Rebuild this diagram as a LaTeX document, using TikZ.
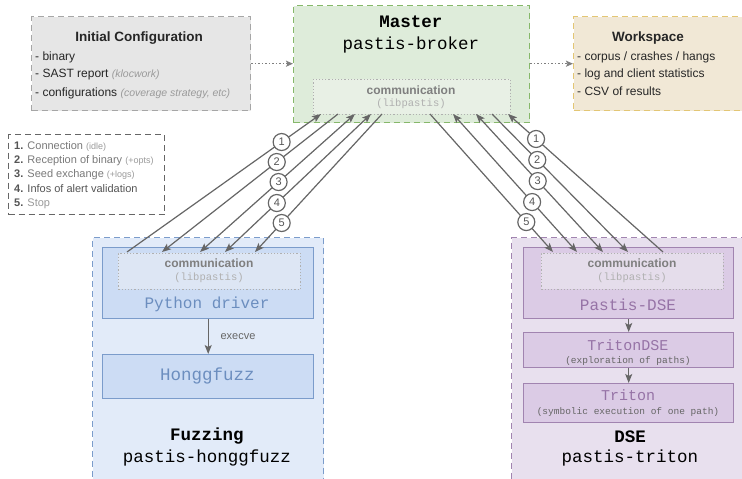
\documentclass[tikz,border=0pt]{standalone}
\usepackage{fontspec}
\setmainfont{Liberation Sans}
\setmonofont{Liberation Mono}
\usetikzlibrary{arrows.meta}
\definecolor{lnk}{HTML}{666666}
\definecolor{txt}{HTML}{262626}
\definecolor{cfgF}{HTML}{E6E6E6}
\definecolor{cfgB}{HTML}{A6A6A6}
\definecolor{mF}{HTML}{DEECDA}
\definecolor{mB}{HTML}{86B86A}
\definecolor{mcF}{HTML}{E8F0E5}
\definecolor{wF}{HTML}{F1E8D6}
\definecolor{wB}{HTML}{E3C674}
\definecolor{fF}{HTML}{E2EBF9}
\definecolor{fIn}{HTML}{CCDCF4}
\definecolor{fcF}{HTML}{DDE6F4}
\definecolor{fB}{HTML}{7B9CCB}
\definecolor{fT}{HTML}{6C8EBF}
\definecolor{dF}{HTML}{E8E0EE}
\definecolor{dIn}{HTML}{DBCBE5}
\definecolor{dcF}{HTML}{E5DDEB}
\definecolor{dB}{HTML}{A184B0}
\definecolor{dT}{HTML}{9673A6}
\definecolor{commGray}{HTML}{7F7F7F}
\definecolor{libGray}{HTML}{B0B0B0}
\definecolor{parGray}{HTML}{9A9A9A}
\definecolor{legNum}{HTML}{555555}
\definecolor{legTxt}{HTML}{7A7A7A}
\begin{document}
\begin{tikzpicture}[x=1pt,y=-1pt,
  box/.style={rectangle, anchor=north west, inner sep=0pt, line width=1.4pt},
  dashbox/.style={box, dash pattern=on 6pt off 4pt},
  cfgbox/.style={dashbox, draw=cfgB, fill=cfgF},
  mbox/.style={dashbox, draw=mB, fill=mF},
  wbox/.style={dashbox, draw=wB, fill=wF},
  legbox/.style={dashbox, draw=lnk, fill=white},
  fbox/.style={dashbox, draw=fB, fill=fF},
  dbox/.style={dashbox, draw=dB, fill=dF},
  finner/.style={box, draw=fB, fill=fIn},
  dinner/.style={box, draw=dB, fill=dIn},
  commbox/.style={box, line width=0.9pt, draw=libGray, dash pattern=on 1.2pt off 2pt},
  headT/.style={font=\fontsize{13.5}{16}\selectfont\bfseries, text=txt, inner sep=0pt},
  lineT/.style={anchor=west, font=\fontsize{12}{14}\selectfont, text=txt, inner sep=0pt},
  titleB/.style={font=\fontsize{17.5}{20}\selectfont\ttfamily\bfseries, text=black, inner sep=0pt},
  titleM/.style={font=\fontsize{17.5}{20}\selectfont\ttfamily, text=black, inner sep=0pt},
  commT/.style={font=\fontsize{12}{14}\selectfont\bfseries, text=commGray, inner sep=0pt},
  commL/.style={font=\fontsize{10.5}{12}\selectfont\ttfamily, text=libGray, inner sep=0pt},
  legT/.style={anchor=west, font=\fontsize{11}{13}\selectfont, text=legTxt, inner sep=0pt},
  num/.style={circle, draw=lnk, fill=white, line width=1.2pt, minimum size=17pt, inner sep=0pt, font=\fontsize{11}{13}\selectfont, text=legNum, solid},
  conn/.style={draw=lnk, line width=1.2pt},
  tip/.tip={Stealth[length=9pt, width=7pt, inset=2pt]},
  dotconn/.style={draw=commGray, line width=1.3pt, dash pattern=on 1.3pt off 2.2pt, -{Stealth[length=7pt, width=6pt, inset=1.5pt]}}
]
\clip (0,0) rectangle (742,479);
\fill[white] (0,0) rectangle (742,479);

% ---------- Initial configuration ----------
\node[cfgbox, minimum width=219pt, minimum height=94pt] (cfg) at (31,16) {};
\node[headT] (cfgT) at (139,38) {Initial Configuration};
\node[lineT] (cfg1) at (35,57) {- binary};
\node[lineT] (cfg2) at (35,75) {- SAST report {\fontsize{10.5}{12}\selectfont\itshape\color{parGray}(klocwork)}};
\node[lineT] (cfg3) at (35,93) {- configurations {\fontsize{10.5}{12}\selectfont\itshape\color{parGray}(coverage strategy, etc)}};

% ---------- Master ----------
\node[mbox, minimum width=236pt, minimum height=117pt] (master) at (293,5) {};
\node[commbox, fill=mcF, minimum width=197pt, minimum height=35pt] (mcomm) at (313,79) {};
\node[titleB] (mT) at (411,22) {Master};
\node[titleM] (mT2) at (411,45) {pastis-broker};
\node[commT] (mcT) at (411,90) {communication};
\node[commL] (mcL) at (411,104) {(libpastis)};

% ---------- Workspace ----------
\node[wbox, minimum width=190pt, minimum height=94pt] (ws) at (573,16) {};
\node[headT] (wsT) at (648,38) {Workspace};
\node[lineT] (ws1) at (577,57) {- corpus / crashes / hangs};
\node[lineT] (ws2) at (577,74) {- log and client statistics};
\node[lineT] (ws3) at (577,91) {- CSV of results};

\draw[dotconn] (cfg.east) -- (master.west |- cfg.east);
\draw[dotconn] (master.east |- ws.west) -- (ws.west);

% ---------- Legend ----------
\node[legbox, minimum width=156pt, minimum height=80pt] (leg) at (8,134) {};
\node[legT] (lg1) at (14,146) {{\bfseries\color{legNum}1.} Connection {\fontsize{9}{11}\selectfont\color{parGray}(idle)}};
\node[legT] (lg2) at (14,161) {{\bfseries\color{legNum}2.} Reception of binary {\fontsize{9}{11}\selectfont\color{parGray}(+opts)}};
\node[legT] (lg3) at (14,175) {{\bfseries\color{legNum}3.} Seed exchange {\fontsize{9}{11}\selectfont\color{parGray}(+logs)}};
\node[legT] (lg4) at (14,189) {{\bfseries\color{legNum}4.} {\color{legNum}Infos of alert validation}};
\node[legT] (lg5) at (14,204) {{\bfseries\color{legNum}5.} {\color{parGray}Stop}};

% ---------- Fuzzing ----------
\node[fbox, minimum width=231pt, minimum height=245pt] (fuzz) at (92,237) {};
\node[finner, minimum width=211pt, minimum height=71pt] (pyd) at (102,247) {};
\node[commbox, fill=fcF, minimum width=182pt, minimum height=36pt] (fcomm) at (118,253) {};
\node[commT] (fcT) at (209,263) {communication};
\node[commL] (fcL) at (209,278) {(libpastis)};
\node[font=\fontsize{16}{18}\selectfont\ttfamily, text=fT, inner sep=0pt] (pydT) at (207,304) {Python driver};
\node[finner, minimum width=211pt, minimum height=44pt] (hongg) at (102,354) {};
\node[font=\fontsize{17.5}{20}\selectfont\ttfamily, text=fT, inner sep=0pt] (honggT) at (207.5,376) {Honggfuzz};
\draw[conn, -tip] (pyd.south) -- (hongg.north);
\node[font=\fontsize{11}{13}\selectfont, text=lnk, inner sep=0pt] (exec) at (238,337) {execve};
\node[titleB] (fzT) at (207,436) {Fuzzing};
\node[titleM] (fzT2) at (207,458) {pastis-honggfuzz};

% ---------- DSE ----------
\node[dbox, minimum width=240pt, minimum height=245pt] (dse) at (511,237) {};
\node[dinner, minimum width=210pt, minimum height=71pt] (pdse) at (523,247) {};
\node[commbox, fill=dcF, minimum width=182pt, minimum height=36pt] (dcomm) at (541,253) {};
\node[commT] (dcT) at (632,263) {communication};
\node[commL] (dcL) at (632,278) {(libpastis)};
\node[font=\fontsize{16}{18}\selectfont\ttfamily, text=dT, inner sep=0pt] (pdseT) at (628,305) {Pastis-DSE};
\node[dinner, minimum width=210pt, minimum height=35pt] (tdse) at (523,332) {};
\node[font=\fontsize{15}{17}\selectfont\ttfamily, text=dT, inner sep=0pt] (tdseT) at (628,345) {TritonDSE};
\node[font=\fontsize{9.5}{11}\selectfont\ttfamily, text=lnk, inner sep=0pt] (tdseS) at (628,361) {(exploration of paths)};
\node[dinner, minimum width=210pt, minimum height=39pt] (triton) at (523,383) {};
\node[font=\fontsize{15}{17}\selectfont\ttfamily, text=dT, inner sep=0pt] (tritonT) at (628,395) {Triton};
\node[font=\fontsize{9.5}{11}\selectfont\ttfamily, text=lnk, inner sep=0pt] (tritonS) at (628,412) {(symbolic execution of one path)};
\draw[conn, -tip] (pdse.south) -- (tdse.north);
\draw[conn, -tip] (tdse.south) -- (triton.north);
\node[titleB] (dsT) at (630,437) {DSE};
\node[titleM] (dsT2) at (630,458) {pastis-triton};

% ---------- left message lines ----------
\coordinate (fa1) at (127,252);
\coordinate (fa2) at (162,252);
\coordinate (fa3) at (200,252);
\coordinate (fa4) at (225,252);
\coordinate (fa5) at (255,252);
\coordinate (mb1) at (321,114);
\coordinate (mb2) at (338,114);
\coordinate (mb3) at (355,114);
\coordinate (mb4) at (371,114);
\coordinate (mb5) at (382,114);
\draw[conn, -tip] (fa1) -- node[num, pos=0.797] (l1) {1} (mb1);
\draw[conn, tip-] (fa2) -- node[num, pos=0.652] (l2) {2} (mb2);
\draw[conn, tip-tip] (fa3) -- node[num, pos=0.507] (l3) {3} (mb3);
\draw[conn, tip-tip] (fa4) -- node[num, pos=0.355] (l4) {4} (mb4);
\draw[conn, tip-] (fa5) -- node[num, pos=0.210] (l5) {5} (mb5);

% ---------- right message lines ----------
\coordinate (da1) at (663,252);
\coordinate (da2) at (628,252);
\coordinate (da3) at (603,252);
\coordinate (da4) at (577,252);
\coordinate (da5) at (553,252);
\coordinate (mr1) at (508,114);
\coordinate (mr2) at (492,114);
\coordinate (mr3) at (476,114);
\coordinate (mr4) at (453,114);
\coordinate (mr5) at (430,114);
\draw[conn, -tip] (da1) -- node[num, pos=0.819] (r1) {1} (mr1);
\draw[conn, tip-] (da2) -- node[num, pos=0.667] (r2) {2} (mr2);
\draw[conn, tip-tip] (da3) -- node[num, pos=0.514] (r3) {3} (mr3);
\draw[conn, tip-tip] (da4) -- node[num, pos=0.362] (r4) {4} (mr4);
\draw[conn, tip-] (da5) -- node[num, pos=0.217] (r5) {5} (mr5);
\end{tikzpicture}
\end{document}
